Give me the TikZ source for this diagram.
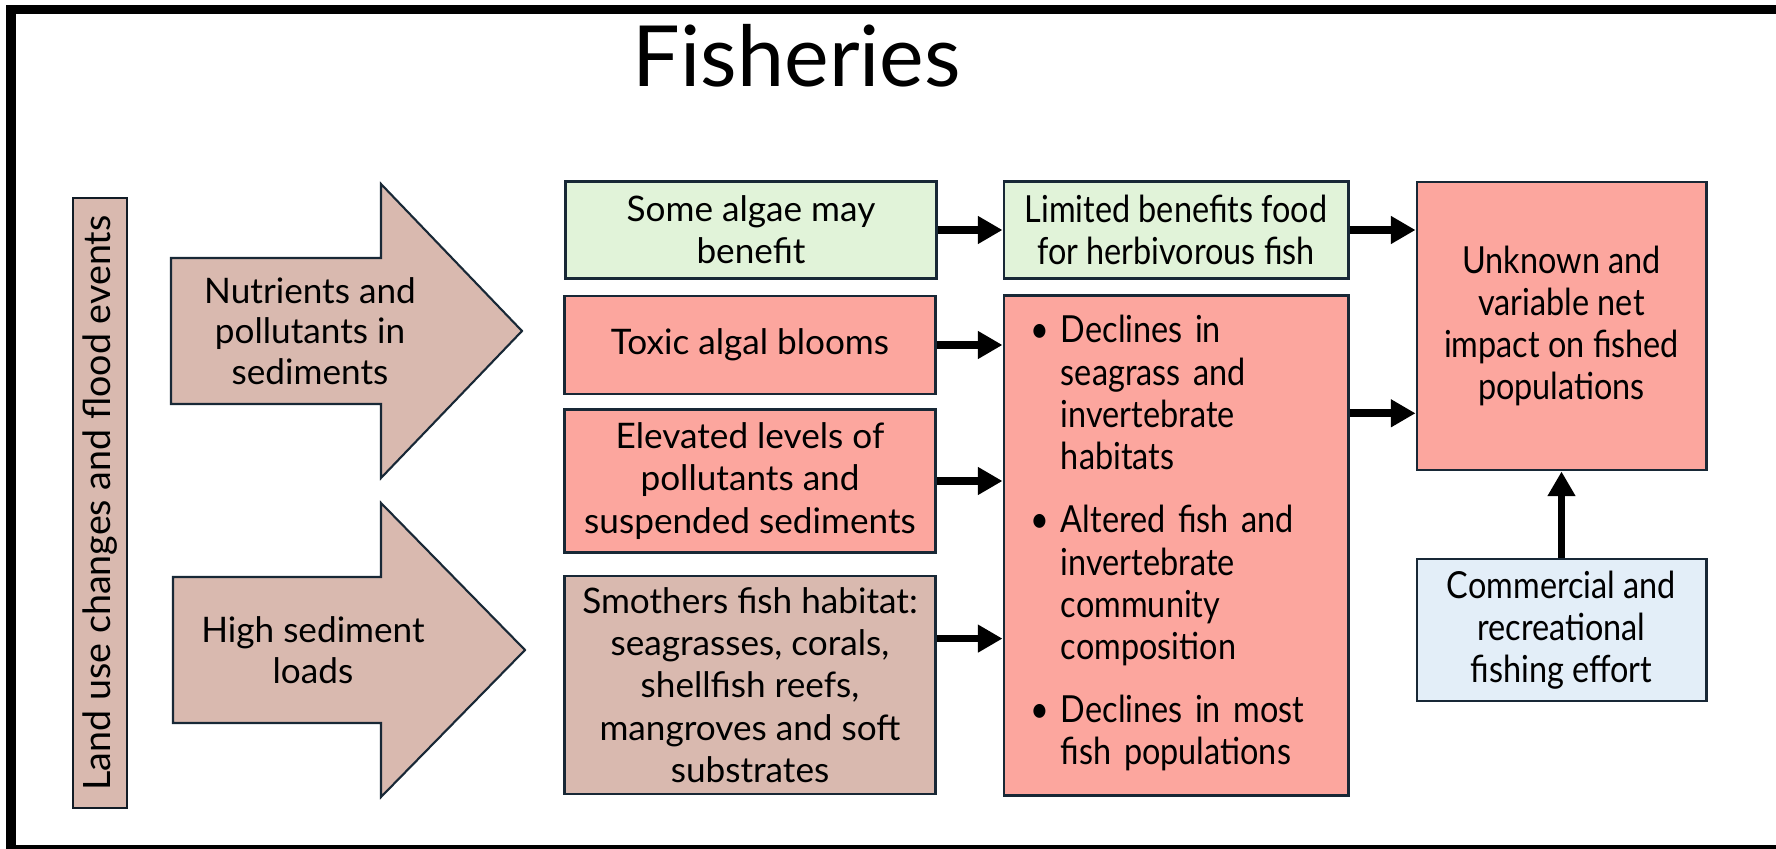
\documentclass[tikz,border=0pt]{standalone}
\usepackage{fontspec}
\setmainfont{Lato}
\newfontfamily\narrowfont[FakeStretch=0.87]{Lato}
\usepackage{xcolor}
\usepackage{tikz}
\usetikzlibrary{arrows.meta}
\usetikzlibrary{calc}

\definecolor{tanbox}{RGB}{217,185,175}
\definecolor{redbox}{RGB}{252,166,158}
\definecolor{greenbox}{RGB}{225,243,217}
\definecolor{bluebox}{RGB}{227,238,248}
\definecolor{edgeblue}{RGB}{24,40,54}

\begin{document}
\begin{tikzpicture}[x=0.01cm,y=-0.01cm,
  lbox/.style={draw=edgeblue, line width=0.8pt, align=center, inner sep=0pt,
    minimum width=3.71cm, font=\fontsize{10}{12}\selectfont},
  rbox/.style={draw=edgeblue, line width=0.8pt, align=center, inner sep=0pt,
    font=\narrowfont\fontsize{10.6}{12}\selectfont},
  flow/.style={line width=2.2pt, -{Triangle[length=7pt,width=7.5pt]}}]
\useasboundingbox (0,0) rectangle (1776,849);
\clip (0,0) rectangle (1776,849);
\draw[line width=0.09cm] (11,9.5) rectangle (1800,849.5);
\node[anchor=base, font=\fontsize{24}{28}\selectfont] (title) at (797,87) {Fisheries};
%% driver column
\node[draw=edgeblue!70!black, line width=0.6pt, fill=tanbox, rotate=90, inner sep=0pt,
  minimum width=6.09cm, minimum height=0.54cm, font=\fontsize{10.7}{12}\selectfont]
  (landuse) at (99.7,503) {Land use changes and flood events};
\foreach \cy/\lx/\tx in {331/171/522, 650/173/525}
  \draw[draw=edgeblue, line width=0.6pt, fill=tanbox] (\lx,\cy-73) -- (381,\cy-73) -- (381,\cy-147)
    -- (\tx,\cy) -- (381,\cy+147) -- (381,\cy+73) -- (\lx,\cy+73) -- cycle;
\node[align=center, font=\fontsize{10}{11.5}\selectfont] (nutrients) at (310,331) {Nutrients and\\pollutants in\\sediments};
\node[align=center, font=\fontsize{10}{11.5}\selectfont] (sedload) at (313,650) {High sediment\\loads};
%% first column
\node[lbox, fill=greenbox, minimum height=0.973cm] (algae) at (751,230) {Some algae may\\benefit};
\node[lbox, fill=redbox, minimum height=0.98cm] (toxic) at (750,345) {Toxic algal blooms};
\node[lbox, fill=redbox, minimum height=1.425cm] (elevated) at (750,481) {Elevated levels of\\pollutants and\\suspended sediments};
\node[lbox, fill=tanbox, minimum height=2.18cm] (smothers) at (750,685) {Smothers fish habitat:\\seagrasses, corals,\\shellfish reefs,\\mangroves and soft\\substrates};
%% second column
\node[rbox, fill=greenbox, minimum width=3.44cm, minimum height=0.973cm] (limited) at (1176,230) {Limited benefits food\\for herbivorous fish};
\node[rbox, fill=redbox, minimum height=4.99cm, text width=2.9cm, align=left, inner xsep=0.27cm]
  (effects) at (1176,545.5) {%
  \begin{tabular}{@{}l@{}l@{}}
  \makebox[0.3cm][l]{\textbullet} & Declines in\\
   & seagrass and\\
   & invertebrate\\
   & habitats\\[6pt]
  \makebox[0.3cm][l]{\textbullet} & Altered fish and\\
   & invertebrate\\
   & community\\
   & composition\\[6pt]
  \makebox[0.3cm][l]{\textbullet} & Declines in most\\
   & fish populations
  \end{tabular}};
%% outcome column
\node[rbox, fill=redbox, minimum width=2.89cm, minimum height=2.88cm] (unknown) at (1561.5,326) {Unknown and\\variable net\\impact on fished\\populations};
\node[rbox, fill=bluebox, minimum width=2.89cm, minimum height=1.42cm] (commercial) at (1561.5,630) {Commercial and\\recreational\\fishing effort};
%% connectors
\coordinate (smout) at ($(smothers.north east)!0.29!(smothers.south east)$);
\coordinate (unin) at ($(unknown.north west)!0.8!(unknown.south west)$);
\draw[flow] (algae.east) -- (limited.west);
\draw[flow] (toxic.east) -- (toxic.east -| effects.west);
\draw[flow] (elevated.east) -- (elevated.east -| effects.west);
\draw[flow] (smout) -- (smout -| effects.west);
\draw[flow] (limited.east) -- (limited.east -| unknown.west);
\draw[flow] (unin -| effects.east) -- (unin);
\draw[flow] (commercial.north) -- (unknown.south);
\end{tikzpicture}
\end{document}
